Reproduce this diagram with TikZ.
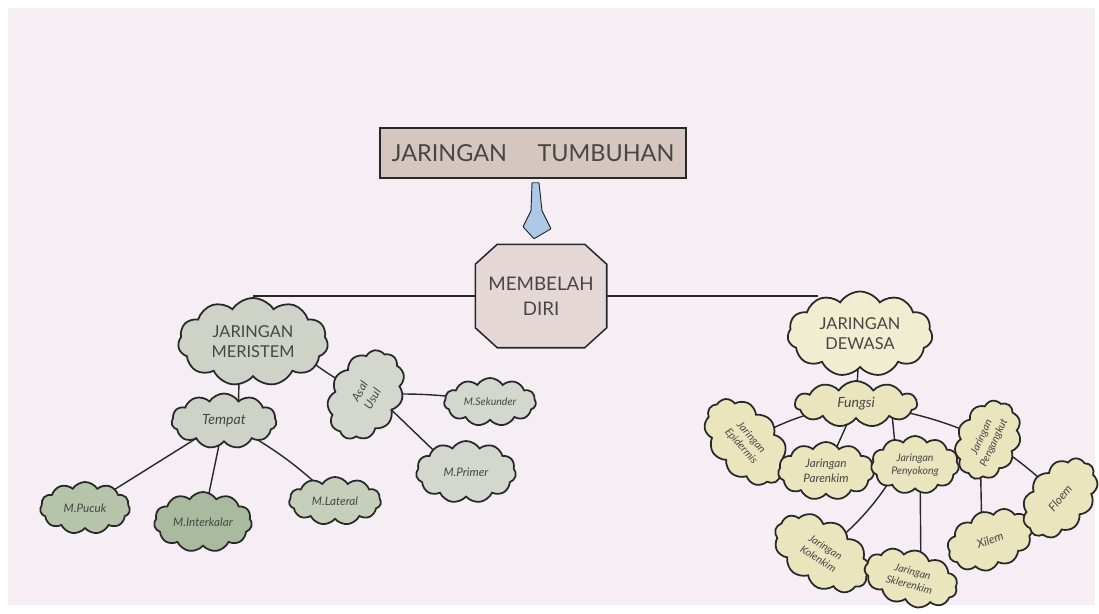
\documentclass[tikz,border=0pt]{standalone}
\usepackage{fontspec}
\setmainfont{Lato}
\usetikzlibrary{shapes.symbols,shapes.misc,calc,backgrounds}
\definecolor{paper}{RGB}{245,239,245}
\definecolor{ink}{RGB}{40,40,42}
\definecolor{txt}{RGB}{70,70,70}
\definecolor{titlefill}{RGB}{214,198,192}
\definecolor{octafill}{RGB}{228,215,213}
\definecolor{arrowblue}{RGB}{172,202,232}
\definecolor{merA}{RGB}{206,210,199}
\definecolor{merB}{RGB}{212,215,206}
\definecolor{merC}{RGB}{182,196,170}
\definecolor{merD}{RGB}{170,186,158}
\definecolor{merE}{RGB}{198,207,186}
\definecolor{dewA}{RGB}{241,237,208}
\definecolor{dewB}{RGB}{235,229,190}
\begin{document}
\begin{tikzpicture}[x=0.03cm,y=-0.03cm,
  cl/.style={cloud, cloud puffs=11, cloud puff arc=115, cloud ignores aspect,
    draw=ink, line width=1.5pt, inner sep=0pt, align=center, text=txt},
  sz/.style 2 args={minimum width=#1*0.03cm, minimum height=#2*0.03cm},
  link/.style={draw=ink, line width=1.2pt},
  titlebox/.style={draw=ink, line width=1.3pt, fill=titlefill, rectangle,
    minimum width=9.18cm, minimum height=1.5cm, text=txt, font=\fontsize{20}{24}\selectfont},
  octabox/.style={rectangle, minimum width=3.93cm, minimum height=3.09cm,
    inner sep=0pt, align=center, text=txt, font=\fontsize{16}{21}\selectfont},
  octaline/.style={draw=ink, line width=1.3pt, fill=octafill},
  big/.style={font=\fontsize{14}{17}\selectfont},
  mid/.style={font=\itshape\fontsize{12}{14}\selectfont},
  sml/.style={font=\itshape\fontsize{10}{12.5}\selectfont},
  tny/.style={font=\itshape\fontsize{9}{11.5}\selectfont}]
\useasboundingbox (0,0) rectangle (1099,613);

% top
\node[titlebox] (title) at (533,153) {JARINGAN\hspace{1.3em}TUMBUHAN};
\node[octabox] (octa) at (541,296) {MEMBELAH\\DIRI};

% meristem side
\node[cl, sz={150}{88}, fill=merA, big] (meristem) at (253,342) {JARINGAN\\MERISTEM};
\node[cl, sz={105}{55}, fill=merA, mid] (tempat) at (224,421) {Tempat};
\node[cl, sz={95}{70}, fill=merB, sml, rotate=60] (asal) at (366,395) {Asal\\Usul};
\node[cl, sz={92}{48}, fill=merB, tny] (sekunder) at (490,402) {M.Sekunder};
\node[cl, sz={100}{62}, fill=merB, sml] (primer) at (466,472) {M.Primer};
\node[cl, sz={90}{52}, fill=merC, sml] (pucuk) at (85,508) {M.Pucuk};
\node[cl, sz={98}{60}, fill=merD, sml] (interkalar) at (203,522) {M.Interkalar};
\node[cl, sz={92}{48}, fill=merE, sml] (lateral) at (335,501) {M.Lateral};

% dewasa side
\node[cl, sz={145}{85}, fill=dewA, big] (dewasa) at (860,334) {JARINGAN\\DEWASA};
\node[cl, sz={122}{46}, fill=dewB, mid] (fungsi) at (856,404) {Fungsi};
\node[cl, sz={100}{66}, fill=dewB, tny, rotate=-48] (epidermis) at (746,442) {Jaringan\\Epidermis};
\node[cl, sz={96}{58}, fill=dewB, sml] (parenkim) at (826,471) {Jaringan\\Parenkim};
\node[cl, sz={88}{58}, fill=dewB, tny] (penyokong) at (915,465) {Jaringan\\Penyokong};
\node[cl, sz={82}{62}, fill=dewB, tny, rotate=65] (pengangkut) at (988,440) {Jaringan\\Pengangkut};
\node[cl, sz={105}{66}, fill=dewB, tny, rotate=-32] (kolenkim) at (822,553) {Jaringan\\Kolenkim};
\node[cl, sz={95}{56}, fill=dewB, tny, rotate=-15] (sklerenkim) at (911,578) {Jaringan\\Sklerenkim};
\node[cl, sz={88}{58}, fill=dewB, sml, rotate=20] (xilem) at (990,540) {Xilem};
\node[cl, sz={90}{62}, fill=dewB, sml, rotate=50] (floem) at (1060,498) {Floem};

\begin{pgfonlayer}{background}
\fill[white] (0,0) rectangle (1099,613);
\fill[paper] (8,8) rectangle (1095,605);
% arrow
\filldraw[fill=arrowblue, draw=ink, line width=0.8pt, rounded corners=0.5pt]
  ($(title.south)+(-1,4)$) -- ($(title.south)+(6,4)$) -- ($(title.south)+(9,32)$)
  -- ($(title.south)+(18,50)$) -- ($(title.south)+(1,60)$) -- ($(title.south)+(-10,48)$)
  -- ($(title.south)+(-2,32)$) -- cycle;
% main branches
\draw[link] (octa.west) -- (octa.west -| meristem.north);
\draw[link] (octa.east) -- (octa.east -| dewasa.140);
% meristem links
\draw[link] ($(meristem.center)+(-13,0)$) -- ($(tempat.center)+(14,0)$);
\draw[link] ($(meristem.center)+(30,-5)$) to[bend right=8] (asal.center);
\draw[link] (asal.center) to[bend left=6] (sekunder.center);
\draw[link] ($(asal.center)+(10,0)$) -- ($(primer.center)+(-10,0)$);
\draw[link] (tempat.center) -- (pucuk.center);
\draw[link] (tempat.center) -- (interkalar.center);
\draw[link] (tempat.center) to[bend left=8] (lateral.center);
% dewasa links
\draw[link] (dewasa.center) -- (fungsi.center);
\draw[link] (fungsi.center) to[bend right=10] (epidermis.center);
\draw[link] (fungsi.center) -- (parenkim.center);
\draw[link] ($(fungsi.center)+(35,0)$) -- ($(penyokong.center)+(-18,0)$);
\draw[link] (fungsi.center) to[bend left=8] (pengangkut.center);
\draw[link] ($(penyokong.center)+(-15,0)$) to[bend left=10] (kolenkim.center);
\draw[link] ($(penyokong.center)+(5,0)$) -- ($(sklerenkim.center)+(10,0)$);
\draw[link] ($(pengangkut.center)+(-8,0)$) -- ($(xilem.center)+(-8,0)$);
\draw[link] (pengangkut.center) to[bend left=6] (floem.center);
% octagon outline of the MEMBELAH DIRI node
\path[octaline]
  ($(octa.north west)+(22,0)$) -- ($(octa.north east)+(-22,0)$)
  -- ($(octa.north east)+(0,20)$) -- ($(octa.south east)+(0,-20)$)
  -- ($(octa.south east)+(-22,0)$) -- ($(octa.south west)+(22,0)$)
  -- ($(octa.south west)+(0,-20)$) -- ($(octa.north west)+(0,20)$) -- cycle;
\end{pgfonlayer}
\end{tikzpicture}
\end{document}
